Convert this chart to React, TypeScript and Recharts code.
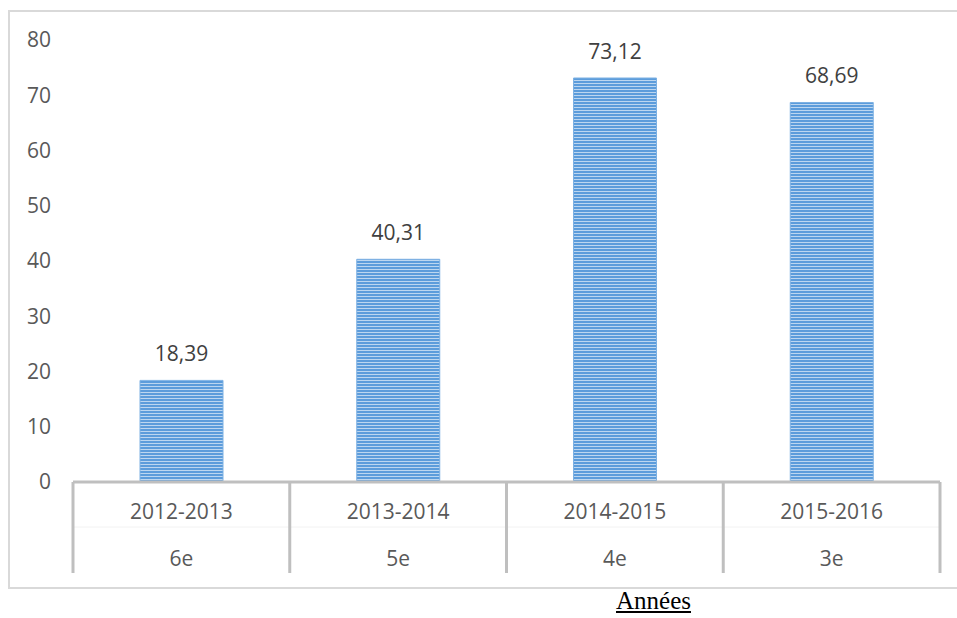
import { BarChart, Bar, XAxis, YAxis, LabelList } from 'recharts';

const years = ['2012-2013', '2013-2014', '2014-2015', '2015-2016'];
const levels = ['6e', '5e', '4e', '3e'];
const values = [18.39, 40.31, 73.12, 68.69];
const yTicks = [0, 10, 20, 30, 40, 50, 60, 70, 80];

const data = years.map((year, i) => ({ year, level: levels[i], value: values[i] }));

const FONT = '"Open Sans", "Liberation Sans", sans-serif';
const GRID = '#bfbfbf';

const formatValue = (v: number) => v.toFixed(2).replace('.', ',');

// two-row category axis with divider lines between categories
const CategoryTick = (props: any) => {
  const { x, y, payload, index, visibleTicksCount } = props;
  const half = payload.offset || 0;
  const level = levels[index];
  const last = index === visibleTicksCount - 1;
  return (
    <g>
      <line x1={x - half} x2={x + half} y1={y + 45} y2={y + 45} stroke="#f2f2f2" strokeWidth={1} />
      <line x1={x - half} x2={x - half} y1={y} y2={y + 91} stroke={GRID} strokeWidth={3} />
      {last && <line x1={x + half} x2={x + half} y1={y} y2={y + 91} stroke={GRID} strokeWidth={3} />}
      <text x={x} y={y + 37} textAnchor="middle" fill="#595959" fontSize={21} fontFamily={FONT}>
        {payload.value}
      </text>
      <text x={x} y={y + 84} textAnchor="middle" fill="#595959" fontSize={21} fontFamily={FONT}>
        {level}
      </text>
    </g>
  );
};

export default function App() {
  return (
    <div style={{ position: 'absolute', left: 0, top: 0, width: 957, height: 618, overflow: 'hidden', background: '#fff' }}>
      <div
        style={{
          position: 'absolute',
          left: 8,
          top: 10,
          width: 960,
          height: 575,
          border: '2px solid #d9d9d9',
        }}
      />
      <div style={{ position: 'absolute', left: 0, top: 0 }}>
        <BarChart
          width={957}
          height={618}
          data={data}
          margin={{ top: 40, right: 17, left: 0, bottom: 45 }}
          barCategoryGap={0}
        >
          <defs>
            <pattern id="barStripes" x="0" y="0" width="8" height="3" patternUnits="userSpaceOnUse">
              <rect x="0" y="0" width="8" height="3" fill="#5c9cdb" />
              <rect x="0" y="2" width="8" height="1" fill="#bcd6f0" />
            </pattern>
          </defs>
          <YAxis
            domain={[0, 80]}
            ticks={yTicks}
            width={73}
            axisLine={false}
            tickLine={false}
            tickSize={0}
            tickMargin={22}
            tick={{ fill: '#595959', fontSize: 21, fontFamily: FONT }}
            interval={0}
          />
          <XAxis
            dataKey="year"
            height={91}
            axisLine={{ stroke: GRID, strokeWidth: 3 }}
            tickLine={false}
            tickSize={0}
            tickMargin={0}
            interval={0}
            tick={<CategoryTick />}
          />
          <Bar
            dataKey="value"
            barSize={83}
            fill="url(#barStripes)"
            stroke="#7db1e3"
            strokeWidth={1}
            isAnimationActive={false}
          >
            <LabelList
              dataKey="value"
              position="top"
              offset={19}
              formatter={(v: any) => formatValue(Number(v))}
              style={{ fill: '#404040', fontSize: 21, fontFamily: FONT }}
            />
          </Bar>
        </BarChart>
      </div>
      <div
        style={{
          position: 'absolute',
          left: 616,
          top: 586,
          fontFamily: '"Liberation Serif", "Times New Roman", serif',
          fontSize: 25,
          lineHeight: '30px',
          textDecoration: 'underline',
          color: '#000',
        }}
      >
        Années
      </div>
    </div>
  );
}
